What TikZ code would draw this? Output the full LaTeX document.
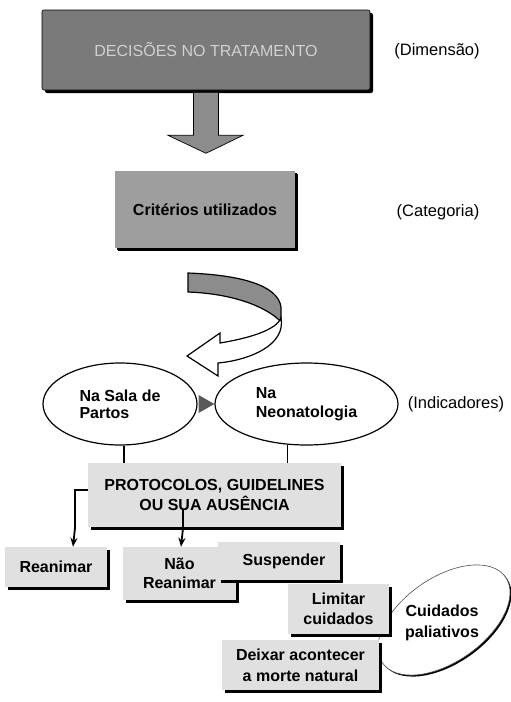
\documentclass[tikz,border=0pt]{standalone}
\usepackage{fontspec}
\setmainfont{Liberation Sans}
\usetikzlibrary{shapes.geometric,shadows,calc,arrows.meta}

\tikzset{
  lbl/.style={font=\fontsize{16.5}{19}\selectfont},
  bbox/.style={font=\fontsize{16}{19}\selectfont\bfseries, align=center, inner sep=0pt,
    fill=black!12, drop shadow={shadow xshift=3pt, shadow yshift=-3pt, fill=black, opacity=1}},
  oval/.style={ellipse, draw, line width=1.2pt, font=\fontsize{16}{17}\selectfont\bfseries,
    align=left, inner sep=0pt},
  conn/.style={line width=1.8pt},
  pen/.style={line width=1.8pt, -{Stealth[length=9pt,width=7pt,fill=black!35]}}
}

\begin{document}
\begin{tikzpicture}[x=1pt,y=-1pt]
         \useasboundingbox (0,0) rectangle (511,702);

         \node (dec) [bbox, fill=black!52, draw=black, line width=0.6pt, rounded corners=2pt,
            font=\fontsize{16}{19}\selectfont, text=white!82!black,
            minimum width=328pt, minimum height=80pt] at (206,50) {DECISÕES NO TRATAMENTO};
         \node (crit) [bbox, fill=black!38, drop shadow={shadow xshift=1.5pt, shadow yshift=-1.5pt, fill=black, opacity=1},
            minimum width=180pt, minimum height=77pt] at (205,209.5) {Critérios utilizados};
         \node (dim) [lbl] at (437,51) {(Dimensão)};
         \node (cat) [lbl] at (438,212) {(Categoria)};

         \begin{scope}[shift={(dec.south)}]
            \filldraw[fill=black!45, line width=0.7pt]
               (-12.5,2) -- (-12.5,45) -- (-38,45) -- (0,63) -- (37,45) -- (12.5,45) -- (12.5,2) -- cycle;
         \end{scope}

         \filldraw[fill=black!45, line width=1.2pt]
            (188,273) .. controls (240,275) and (278,285) .. (281,307) -- (281,322)
            .. controls (270,310) and (240,294) .. (188,292) -- cycle;
         \filldraw[fill=white, line width=1.2pt]
            (281,318) .. controls (286,345) and (250,360) .. (218,363) -- (218,376) -- (187,356)
            -- (220,333) -- (220,343) .. controls (250,338) and (276,330) .. (281,318) -- cycle;

         \node (sala) [oval, minimum width=154pt, minimum height=82pt] at (120,404) {Na Sala de\\Partos};
         \node (neo) [oval, minimum width=183pt, minimum height=82pt] at (306.5,404)
            {Na\\[2pt]Neonatologia};
         \node (ind) [lbl] at (456,404) {(Indicadores)};
         \fill[black!65] ($(sala.east)+(1,-9)$) -- (neo.west) -- ($(sala.east)+(1,9)$) -- cycle;

         \node (prot) [bbox, minimum width=253pt, minimum height=64pt] at (214.5,495)
            {PROTOCOLOS, GUIDELINES\\[1pt]OU SUA AUSÊNCIA};
         \draw[conn] (sala.-84) -- (sala.-84 |- prot.north);
         \draw[conn] (neo.-115) -- (neo.-115 |- prot.north);

         \node (palia_oval) [ellipse, draw=black!70, line width=0.6pt, fill=white, rotate=35,
            minimum width=150pt, minimum height=84pt,
            drop shadow={shadow xshift=1.5pt, shadow yshift=-1.5pt, fill=black, opacity=1}] at (444,620) {};
         \node (palia) [font=\fontsize{16}{21}\selectfont\bfseries, align=center] at (442,623)
            {Cuidados\\paliativos};

         \node (rean) [bbox, minimum width=102pt, minimum height=40pt] at (56,567) {Reanimar};
         \node (nao) [bbox, minimum width=113pt, minimum height=53pt] at (179.5,573.5)
            {Não\\Reanimar};
         \node (susp) [bbox, minimum width=122pt, minimum height=38pt] at (279,561) {\hspace{10pt}Suspender};
         \node (lim) [bbox, minimum width=101pt, minimum height=50pt, font=\fontsize{16}{20}\selectfont\bfseries]
            at (338.5,609) {Limitar\\cuidados};
         \node (deix) [bbox, minimum width=157pt, minimum height=50pt, font=\fontsize{16}{21}\selectfont\bfseries]
            at (300.5,665) {Deixar acontecer\\a morte natural};

         \draw[conn] ($(prot.west)+(0,-5)$) -| ($(rean.north)+(19,-19)$);
         \draw[pen] ($(rean.north)+(19,-19)$) -- ($(rean.north)+(17,0)$);
         \draw[conn] ($(prot.south)+(-31.5,-17)$) -- ($(prot.south)+(-31.5,1)$);
         \draw[pen] ($(prot.south)+(-31.5,1)$) -- ($(nao.north)+(1.5,0)$);
      \end{tikzpicture}
\end{document}
